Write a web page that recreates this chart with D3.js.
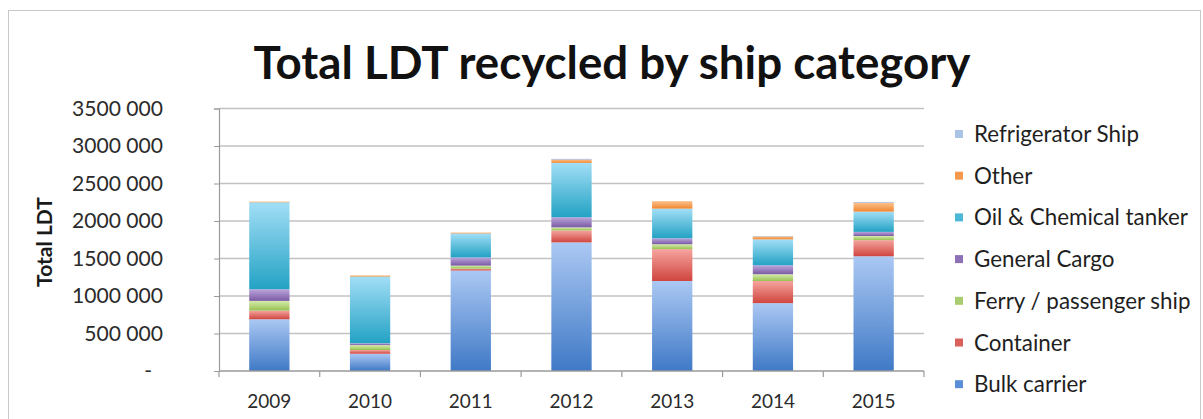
<!DOCTYPE html>
<html>
<head>
<meta charset="utf-8">
<script src="https://cdn.jsdelivr.net/npm/d3@7"></script>
<style>
  html, body { margin: 0; padding: 0; background: #fff; }
  svg { display: block; font-family: Lato, "Open Sans", sans-serif; }
</style>
</head>
<body>
<svg id="chart" width="1203" height="419"></svg>
<script>
const years = ["2009", "2010", "2011", "2012", "2013", "2014", "2015"];
const seriesNames = ["Bulk carrier", "Container", "Ferry / passenger ship", "General Cargo", "Oil & Chemical tanker", "Other", "Refrigerator Ship"];
const bulkCarrier   = [690000, 230000, 1340000, 1715000, 1200000, 905000, 1530000];
const container     = [115000,  50000,   25000,  160000,  425000, 295000,  215000];
const ferry         = [130000,  65000,   40000,   40000,   65000,  90000,   55000];
const generalCargo  = [155000,  25000,  110000,  135000,   80000, 120000,   55000];
const oilTanker     = [1160000, 890000,  320000,  725000,  395000, 345000,  270000];
const other         = [ 10000,  15000,   12000,   45000,  100000,  40000,  120000];
const refrigerator  = [     0,      0,       0,   10000,       0,   5000,   10000];
const yTicks = [0, 500000, 1000000, 1500000, 2000000, 2500000, 3000000, 3500000];
const titleText = "Total LDT recycled by ship category";
const yAxisTitle = "Total LDT";

const seriesValues = [bulkCarrier, container, ferry, generalCargo, oilTanker, other, refrigerator];
const gradColors = [
  ["#abc8f3", "#3f79c6"],
  ["#f5a49e", "#d0453f"],
  ["#d6ecab", "#97c052"],
  ["#bca6dc", "#7a5aa4"],
  ["#a2def6", "#23a2c4"],
  ["#fcc28c", "#f08632"],
  ["#c9d9f1", "#8dade0"]
];
const swatch = ["#5b8ed6", "#d9605b", "#a8cc6e", "#8e70b6", "#4cb8d8", "#f59a4c", "#a9c2e6"];

const rows = years.map((y, i) => {
  const r = { year: y };
  seriesNames.forEach((s, k) => r[s] = seriesValues[k][i]);
  return r;
});

const svg = d3.select("#chart");
const defs = svg.append("defs");
gradColors.forEach((c, k) => {
  const g = defs.append("linearGradient").attr("id", "g" + k)
    .attr("x1", 0).attr("y1", 0).attr("x2", 0).attr("y2", 1);
  g.append("stop").attr("offset", "0%").attr("stop-color", c[0]);
  g.append("stop").attr("offset", "100%").attr("stop-color", c[1]);
});

// helper: fit font size so a sample string has target width
function fitSize(sample, target, weight) {
  const tmp = svg.append("text").attr("font-size", 20).attr("font-weight", weight || "normal").text(sample);
  const w = tmp.node().getComputedTextLength();
  tmp.remove();
  return 20 * target / w;
}
const tickFs = fitSize("3500 000", 91);
const yearFs = fitSize("2009", 44);
const legendFs = fitSize("Oil & Chemical tanker", 214);
const yTitleFs = fitSize(yAxisTitle, 90, "bold");

// chart border
svg.append("rect").attr("x", 8.5).attr("y", 10.5).attr("width", 1192).attr("height", 420)
  .attr("fill", "#fff").attr("stroke", "#c8c8c8").attr("stroke-width", 1);

const plot = { left: 219, right: 924, top: 108.5, bottom: 371 };

const x = d3.scaleBand().domain(years).range([plot.left, plot.right]).paddingInner(0.6).paddingOuter(0.3);
const xOuter = d3.scaleBand().domain(years).range([plot.left, plot.right]);
const y = d3.scaleLinear().domain([0, 3500000]).range([plot.bottom, plot.top]);

// gridlines
svg.append("g").selectAll("line").data(yTicks.filter(t => t > 0)).join("line")
  .attr("x1", plot.left).attr("x2", plot.right)
  .attr("y1", d => y(d)).attr("y2", d => y(d))
  .attr("stroke", "#c2c2c2").attr("stroke-width", 1.5);

// y axis
const yAxis = d3.axisLeft(y).tickValues(yTicks).tickSize(5).tickFormat(d => d === 0 ? "" : (Math.round(d / 1000)) + " 000");
const gy = svg.append("g").attr("transform", `translate(${plot.left},0)`).call(yAxis);
gy.select(".domain").attr("stroke", "#9a9a9a").attr("stroke-width", 1.2);
gy.selectAll(".tick line").attr("stroke", "#9a9a9a");
gy.selectAll(".tick text").attr("x", -56).attr("font-size", tickFs).attr("fill", "#2b2b2b")
  .attr("font-family", "Lato, sans-serif");
svg.append("text").attr("x", 152).attr("y", y(0) + 7).attr("text-anchor", "end")
  .attr("font-size", tickFs).attr("fill", "#2b2b2b").text("-");

// stacked bars
const stack = d3.stack().keys(seriesNames);
const stacked = stack(rows);
svg.append("g").selectAll("g").data(stacked).join("g")
  .attr("fill", (d, k) => `url(#g${k})`)
  .selectAll("rect").data(d => d).join("rect")
  .attr("x", d => x(d.data.year))
  .attr("width", x.bandwidth())
  .attr("y", d => y(d[1]))
  .attr("height", d => Math.max(0, y(d[0]) - y(d[1])));

// x axis
const gx = svg.append("g").attr("transform", `translate(0,${plot.bottom})`);
gx.append("line").attr("x1", plot.left).attr("x2", plot.right).attr("stroke", "#9a9a9a").attr("stroke-width", 1.5);
const bounds = [plot.left].concat(years.map(yr => xOuter(yr) + xOuter.bandwidth()));
gx.selectAll("line.tk").data(bounds).join("line").attr("class", "tk")
  .attr("x1", d => d).attr("x2", d => d).attr("y1", 0).attr("y2", 6)
  .attr("stroke", "#9a9a9a").attr("stroke-width", 1.2);
gx.selectAll("text").data(years).join("text")
  .attr("x", d => xOuter(d) + xOuter.bandwidth() / 2)
  .attr("y", 37).attr("text-anchor", "middle")
  .attr("font-size", yearFs).attr("fill", "#2b2b2b").text(d => d);

// y axis title
svg.append("text").attr("transform", "translate(52,242) rotate(-90)")
  .attr("text-anchor", "middle").attr("font-size", yTitleFs).attr("font-weight", "bold")
  .attr("fill", "#1a1a1a").text(yAxisTitle);

// title
const t = svg.append("text").attr("x", 612).attr("y", 79).attr("text-anchor", "middle")
  .attr("font-size", 40).attr("font-weight", "bold").attr("fill", "#111").text(titleText);
const w = t.node().getComputedTextLength();
t.attr("font-size", 40 * 717 / w);

// legend
const legendOrder = seriesNames.map((s, k) => k).reverse();
const lg = svg.append("g");
legendOrder.forEach((k, i) => {
  const cy = 135 + i * 41.7;
  lg.append("rect").attr("x", 955).attr("y", cy - 5).attr("width", 8).attr("height", 8).attr("fill", swatch[k]);
  lg.append("text").attr("x", 974).attr("y", cy + 7).attr("font-size", legendFs).attr("fill", "#1f1f1f").text(seriesNames[k]);
});
</script>
</body>
</html>
